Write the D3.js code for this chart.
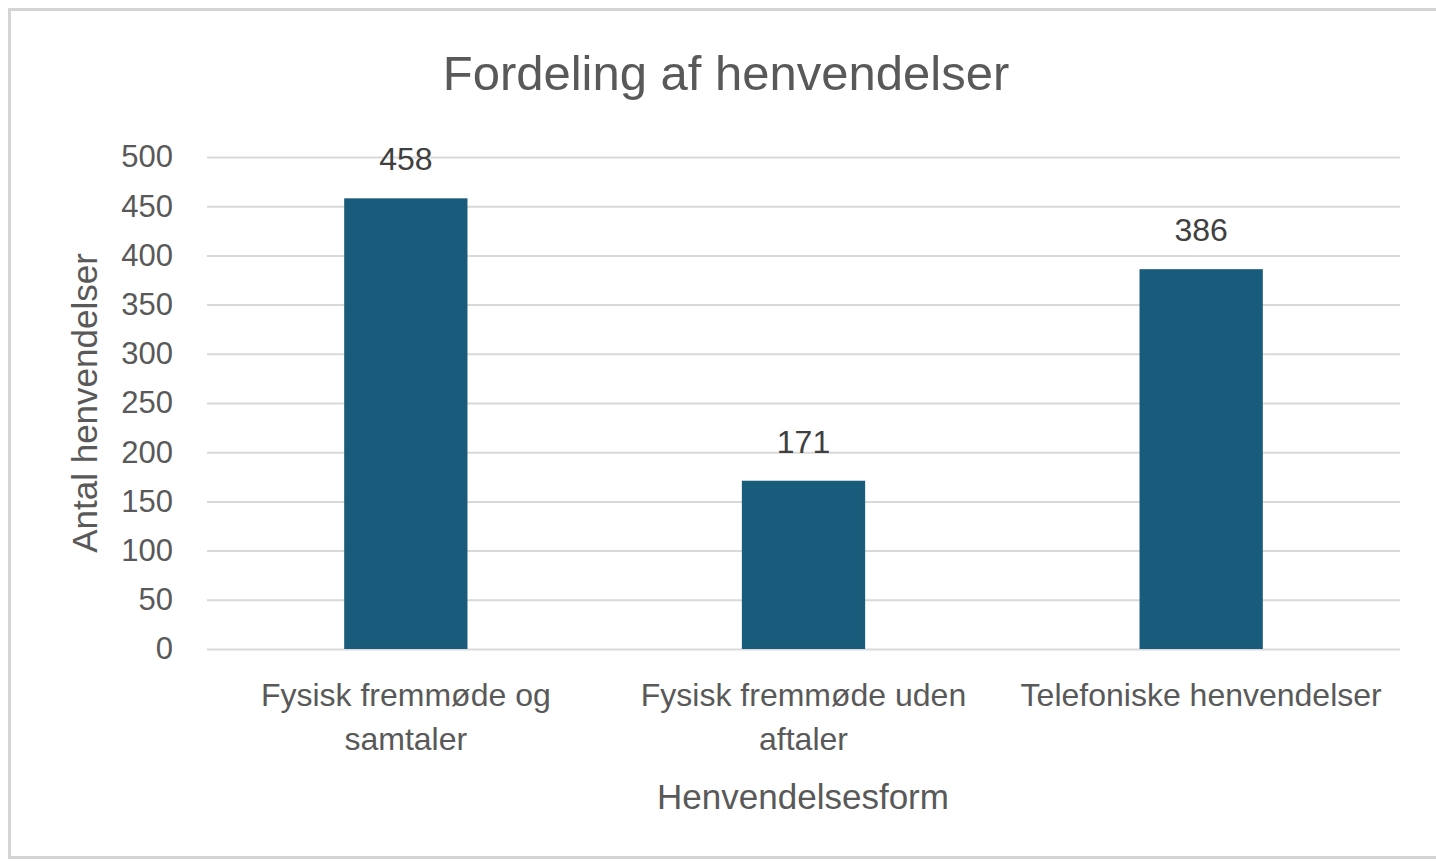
<!DOCTYPE html>
<html><head><meta charset="utf-8">
<script src="https://cdn.jsdelivr.net/npm/d3@7"></script>
<style>
html,body{margin:0;padding:0;background:#fff;}
svg{display:block;}
</style></head>
<body>
<svg id="chart" width="1436" height="861"></svg>
<script>
const categories = [["Fysisk fremmøde og", "samtaler"], ["Fysisk fremmøde uden", "aftaler"], ["Telefoniske henvendelser"]];
const values = [458, 171, 386];
const yTicks = [0, 50, 100, 150, 200, 250, 300, 350, 400, 450, 500];
const title = "Fordeling af henvendelser";
const yTitle = "Antal henvendelser";
const xTitle = "Henvendelsesform";

(function () {
const svg = d3.select("#chart");
const sans = "'Liberation Sans', Arial, sans-serif";
const textCol = "#595959";

svg.append("rect").attr("x", 9.5).attr("y", 9.5).attr("width", 1440).attr("height", 848)
  .attr("fill", "#fff").attr("stroke", "#d4d4d4").attr("stroke-width", 3);

const pl = 207, pr = 1400, pt = 157, pb = 649;
const idx = categories.map((d, i) => i);
const x = d3.scaleBand().domain(idx).range([pl, pr]).paddingInner(0.69).paddingOuter(0.345);
const y = d3.scaleLinear().domain([0, 500]).range([pb, pt]);

const yAxis = svg.append("g").attr("transform", `translate(${pl},0)`)
  .call(d3.axisLeft(y).tickValues(yTicks).tickSize(-(pr - pl)).tickPadding(34));
yAxis.select(".domain").remove();
yAxis.selectAll(".tick line").attr("stroke", "#d9d9d9").attr("stroke-width", 2);
yAxis.selectAll(".tick text").attr("fill", textCol).style("font-family", sans).style("font-size", "31px");

svg.append("g").selectAll("rect").data(values).join("rect")
  .attr("x", (d, i) => x(i)).attr("width", x.bandwidth())
  .attr("y", d => y(d)).attr("height", d => y(0) - y(d))
  .attr("fill", "#195b7b");

svg.append("g").selectAll("text").data(values).join("text")
  .attr("x", (d, i) => x(i) + x.bandwidth() / 2).attr("y", d => y(d) - 28)
  .attr("text-anchor", "middle").attr("fill", "#404040")
  .style("font-family", sans).style("font-size", "32px").text(d => d);

const cat = svg.append("g").selectAll("text").data(categories).join("text")
  .attr("x", (d, i) => x(i) + x.bandwidth() / 2).attr("y", 706)
  .attr("text-anchor", "middle").attr("fill", textCol)
  .style("font-family", sans).style("font-size", "32px");
cat.selectAll("tspan").data(d => d).join("tspan")
  .attr("x", function () { return this.parentNode.getAttribute("x"); })
  .attr("dy", (d, i) => i === 0 ? 0 : 44).text(d => d);

svg.append("text").attr("x", 803).attr("y", 809).attr("text-anchor", "middle")
  .attr("fill", textCol).style("font-family", sans).style("font-size", "35px").text(xTitle);

svg.append("text").attr("transform", "translate(97,403) rotate(-90)").attr("text-anchor", "middle")
  .attr("fill", textCol).style("font-family", sans).style("font-size", "35px").text(yTitle);

svg.append("text").attr("x", 726).attr("y", 90).attr("text-anchor", "middle")
  .attr("fill", textCol).style("font-family", sans).style("font-size", "49px").text(title);
})();
</script>
</body></html>
